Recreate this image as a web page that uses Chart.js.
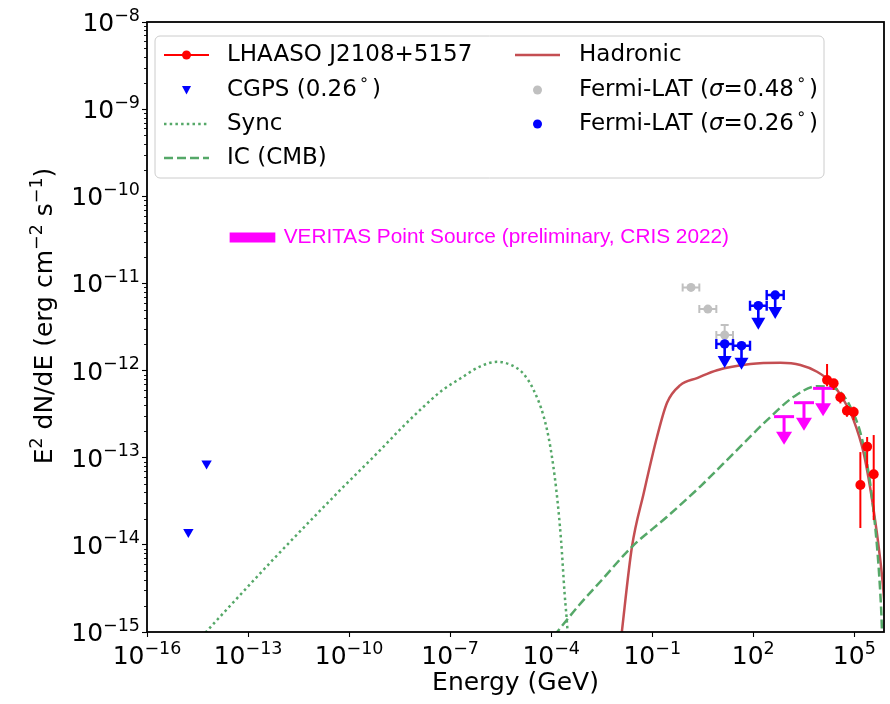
<!DOCTYPE html>
<html>
<head>
<meta charset="utf-8">
<script src="https://cdn.jsdelivr.net/npm/chart.js@4.4.1/dist/chart.umd.min.js"></script>
<style>
  html, body { margin: 0; padding: 0; background: #ffffff; }
  canvas { display: block; }
</style>
</head>
<body>
<canvas id="sed" width="890" height="704"></canvas>
<script>
// Spectral energy distribution of LHAASO J2108+5157.
// Energies in GeV, fluxes as E^2 dN/dE in erg cm^-2 s^-1.

// Model curves
const syncE = [3.2e-15, 5.6e-13, 5.5e-11, 8.5e-10, 3.3e-9, 1.3e-8, 5.7e-8, 2.0e-7, 7.9e-7, 2.5e-6, 6.4e-6, 1.46e-5, 3.0e-5, 6.0e-5, 9.4e-5, 1.42e-4, 1.96e-4, 2.5e-4, 3.0e-4, 3.4e-4];
const syncF = [7.9e-16, 6.8e-15, 4.27e-14, 1.23e-13, 2.12e-13, 3.55e-13, 5.9e-13, 8.1e-13, 1.12e-12, 1.26e-12, 1.16e-12, 9.3e-13, 6.0e-13, 2.96e-13, 1.34e-13, 4.26e-14, 1.14e-14, 2.78e-15, 1.15e-15, 5.0e-16];

const icE = [1.2e-4, 6.5e-4, 2.9e-3, 2.5e-2, 0.275, 2.7, 26, 257, 1585, 7760, 2.43e4, 7.6e4, 1.9e5, 3.7e5, 5.9e5, 6.6e5, 7.1e5];
const icF = [9.0e-16, 2.0e-15, 3.8e-15, 9.5e-15, 2.1e-14, 4.7e-14, 1.12e-13, 2.7e-13, 5.0e-13, 6.6e-13, 6.3e-13, 3.85e-13, 1.35e-13, 2.5e-14, 2.8e-15, 1.05e-15, 3.0e-16];

const hadE = [1.17e-2, 2.5e-2, 5.6e-2, 0.139, 0.275, 0.68, 2.14, 8.4, 82, 640, 2500, 7800, 1.95e4, 4.8e4, 9.5e4, 1.89e5, 3.75e5, 5.9e5, 7.4e5, 8.9e5];
const hadF = [8.0e-16, 9.5e-15, 3.94e-14, 1.74e-13, 4.27e-13, 6.8e-13, 8.2e-13, 1.01e-12, 1.19e-12, 1.23e-12, 1.16e-12, 9.7e-13, 7.45e-13, 4.6e-13, 2.7e-13, 1.13e-13, 2.5e-14, 6.7e-15, 2.8e-15, 1.0e-15];

// LHAASO J2108+5157 flux points with 1-sigma bounds
const lhaasoE  = [1.55e4, 2.43e4, 3.85e4, 6.03e4, 9.55e4, 1.51e5, 2.40e5, 3.76e5];
const lhaasoF  = [7.8e-13, 7.14e-13, 4.93e-13, 3.46e-13, 3.34e-13, 4.86e-14, 1.34e-13, 6.45e-14];
const lhaasoHi = [1.19e-12, 7.94e-13, 5.48e-13, 4.03e-13, 3.85e-13, 1.16e-13, 1.73e-13, 1.82e-13];
const lhaasoLo = [6.6e-13, 5.98e-13, 4.2e-13, 2.95e-13, 2.71e-13, 1.56e-14, 7.6e-14, 1.93e-14];

// CGPS radio fluxes (408 MHz, 1420 MHz)
const cgpsE = [1.69e-15, 5.87e-15];
const cgpsF = [1.40e-14, 8.6e-14];

// Fermi-LAT, sigma = 0.48 deg
const fermi48E   = [1.414, 4.47, 14.14];
const fermi48Elo = [0.8, 2.5, 8.0];
const fermi48Ehi = [2.5, 8.0, 25.0];
const fermi48F   = [9.0e-12, 5.08e-12, 2.56e-12];
const fermi48Fhi = [9.0e-12, 5.08e-12, 3.33e-12];
const fermi48Flo = [9.0e-12, 5.08e-12, 2.0e-12];

// Fermi-LAT, sigma = 0.26 deg (upper limits)
const fermi26E   = [14.14, 44.7, 141, 447];
const fermi26Elo = [8.0, 25.0, 80, 250];
const fermi26Ehi = [25.0, 80, 250, 800];
const fermi26F   = [2.02e-12, 1.93e-12, 5.55e-12, 7.36e-12];

// VERITAS point-source upper limits
const veritasE  = [820, 3200, 11800];
const veritasUL = [2.96e-13, 4.28e-13, 6.25e-13];

// VERITAS annotation band and caption anchor
const veritasBandE = [2.84e-14, 6.46e-13];
const veritasBandF = [3.36e-11, 3.36e-11];
const veritasTextE = 1.14e-12;
const veritasCaption = 'VERITAS Point Source (preliminary, CRIS 2022)';

// Axis ticks (powers of ten) and titles
const xTickExp = [-16, -13, -10, -7, -4, -1, 2, 5];
const yTickExp = [-15, -14, -13, -12, -11, -10, -9, -8];
const xRange = [1e-16, 7.6e5];
const yRange = [1e-15, 1e-8];
const xTitle = [{t: 'Energy (GeV)'}];
const yTitle = [{t: 'E'}, {t: '2', sup: true}, {t: ' dN/dE (erg cm'}, {t: '\u22122', sup: true},
                {t: ' s'}, {t: '\u22121', sup: true}, {t: ')'}];

const FONT = "'DejaVu Sans', 'Noto Sans', sans-serif";
const RED = '#ff0000', BLUE = '#0000ff', GRAY = '#c0c0c0', MAG = '#ff00ff';
const GREEN = '#55a868', HAD = '#c44e52';

const pts = (xs, ys) => xs.map((x, i) => ({x: x, y: ys[i]}));

// Text with superscript / italic runs
function runFont(r, size) {
  return (r.italic ? 'italic ' : '') + (r.sup ? size * 0.7 : size) + 'px ' + FONT;
}
function richWidth(ctx, runs, size) {
  let w = 0;
  for (const r of runs) {
    ctx.font = runFont(r, size);
    w += ctx.measureText(r.t).width + (r.padL || 0) + (r.padR || 0);
  }
  return w;
}
function drawRich(ctx, runs, x, y, size, color, baseline) {
  let cx = x;
  ctx.fillStyle = color;
  ctx.textBaseline = baseline || 'middle';
  ctx.textAlign = 'left';
  for (const r of runs) {
    ctx.font = runFont(r, size);
    const dy = r.sup ? -size * 0.42 : 0;
    cx += r.padL || 0;
    ctx.fillText(r.t, cx, y + dy);
    cx += ctx.measureText(r.t).width + (r.padR || 0);
  }
}
function powRuns(e) {
  return [{t: '10'}, {t: (e < 0 ? '\u2212' : '') + Math.abs(e), sup: true}];
}
const DEG = {t: '\u2218', sup: true, padL: 2, padR: 3};

function downArrow(ctx, x, yTop, stem, headH, headW, color, lw) {
  ctx.strokeStyle = color;
  ctx.fillStyle = color;
  ctx.lineWidth = lw;
  ctx.beginPath();
  ctx.moveTo(x, yTop);
  ctx.lineTo(x, yTop + stem + 1);
  ctx.stroke();
  ctx.beginPath();
  ctx.moveTo(x - headW / 2, yTop + stem);
  ctx.lineTo(x + headW / 2, yTop + stem);
  ctx.lineTo(x, yTop + stem + headH);
  ctx.closePath();
  ctx.fill();
}

// Error bars and limit arrows, drawn just beneath each dataset's markers
const errorBars = {
  id: 'errorBars',
  beforeDatasetDraw(chart, args) {
    const ds = chart.data.datasets[args.index];
    const xs = chart.scales.x, ys = chart.scales.y, ctx = chart.ctx;
    const X = v => xs.getPixelForValue(v), Y = v => ys.getPixelForValue(v);
    ctx.save();
    ctx.lineCap = 'butt';
    if (ds.label === 'LHAASO J2108+5157') {
      ctx.strokeStyle = RED; ctx.lineWidth = 2;
      lhaasoE.forEach((e, i) => {
        ctx.beginPath();
        ctx.moveTo(X(e), Y(lhaasoHi[i]));
        ctx.lineTo(X(e), Y(lhaasoLo[i]));
        ctx.stroke();
      });
    } else if (ds.label === 'Fermi-LAT 0.48') {
      ctx.strokeStyle = GRAY; ctx.lineWidth = 2;
      fermi48E.forEach((e, i) => {
        const y = Y(fermi48F[i]), x0 = X(fermi48Elo[i]), x1 = X(fermi48Ehi[i]), xc = X(e);
        ctx.beginPath();
        ctx.moveTo(x0, y); ctx.lineTo(x1, y);
        ctx.moveTo(x0, y - 4); ctx.lineTo(x0, y + 4);
        ctx.moveTo(x1, y - 4); ctx.lineTo(x1, y + 4);
        const yh = Y(fermi48Fhi[i]), yl = Y(fermi48Flo[i]);
        if (yl - yh > 1) {
          ctx.moveTo(xc, yh); ctx.lineTo(xc, yl);
          ctx.moveTo(xc - 4, yh); ctx.lineTo(xc + 4, yh);
          ctx.moveTo(xc - 4, yl); ctx.lineTo(xc + 4, yl);
        }
        ctx.stroke();
      });
    } else if (ds.label === 'Fermi-LAT 0.26') {
      fermi26E.forEach((e, i) => {
        const y = Y(fermi26F[i]), x0 = X(fermi26Elo[i]), x1 = X(fermi26Ehi[i]), xc = X(e);
        ctx.strokeStyle = BLUE; ctx.lineWidth = 2.4;
        ctx.beginPath();
        ctx.moveTo(x0, y); ctx.lineTo(x1, y);
        ctx.moveTo(x0, y - 5); ctx.lineTo(x0, y + 5);
        ctx.moveTo(x1, y - 5); ctx.lineTo(x1, y + 5);
        ctx.stroke();
        downArrow(ctx, xc, y, 12, 12, 14, BLUE, 2.6);
      });
    } else if (ds.label === 'VERITAS UL') {
      veritasE.forEach((e, i) => {
        const y = Y(veritasUL[i]), xc = X(e);
        ctx.strokeStyle = MAG; ctx.lineWidth = 3;
        ctx.beginPath();
        ctx.moveTo(xc - 10, y); ctx.lineTo(xc + 10, y);
        ctx.stroke();
        downArrow(ctx, xc, y, 15, 13, 16, MAG, 3);
      });
    }
    ctx.restore();
  }
};

// Axes frame, tick labels, titles, minor ticks and the VERITAS caption
const frame = {
  id: 'frame',
  afterDatasetsDraw(chart) {
    const {ctx, chartArea: a} = chart;
    const xs = chart.scales.x, ys = chart.scales.y;
    ctx.save();
    // caption next to the band
    ctx.fillStyle = MAG;
    ctx.font = '20.8px "Liberation Sans", Arial, sans-serif';
    ctx.textBaseline = 'middle';
    ctx.textAlign = 'left';
    ctx.fillText(veritasCaption, xs.getPixelForValue(veritasTextE), ys.getPixelForValue(veritasBandF[0]));
    // minor ticks
    ctx.strokeStyle = '#000'; ctx.lineWidth = 0.9;
    ctx.beginPath();
    for (let n = -15; n < -8; n++) {
      for (let m = 2; m <= 9; m++) {
        const y = Math.round(ys.getPixelForValue(m * Math.pow(10, n))) + 0.5;
        ctx.moveTo(a.left - 3, y); ctx.lineTo(a.left, y);
      }
    }
    ctx.stroke();
    // frame
    ctx.lineWidth = 1.8;
    ctx.strokeStyle = '#000';
    ctx.strokeRect(a.left, a.top, a.right - a.left, a.bottom - a.top);

    // tick labels
    const S = 25;
    xs.ticks.forEach(t => {
      const runs = powRuns(Math.round(Math.log10(t.value)));
      const w = richWidth(ctx, runs, S);
      drawRich(ctx, runs, xs.getPixelForValue(t.value) - w / 2, a.bottom + 32, S, '#000', 'alphabetic');
    });
    ys.ticks.forEach(t => {
      const runs = powRuns(Math.round(Math.log10(t.value)));
      const w = richWidth(ctx, runs, S);
      drawRich(ctx, runs, a.left - 7 - w, ys.getPixelForValue(t.value) + 9, S, '#000', 'alphabetic');
    });

    // axis titles
    const wx = richWidth(ctx, xTitle, S);
    drawRich(ctx, xTitle, (a.left + a.right) / 2 - wx / 2, 690, S, '#000', 'alphabetic');
    const wy = richWidth(ctx, yTitle, S);
    ctx.translate(52, 316);
    ctx.rotate(-Math.PI / 2);
    drawRich(ctx, yTitle, -wy / 2, 0, S, '#000', 'alphabetic');
    ctx.restore();
  }
};

// Two-column legend box
const legendBox = {
  id: 'legendBox',
  afterDraw(chart) {
    const ctx = chart.ctx;
    ctx.save();
    const bx = 155, by = 36, bw = 669, bh = 142, r = 5;
    ctx.beginPath();
    ctx.moveTo(bx + r, by);
    ctx.arcTo(bx + bw, by, bx + bw, by + bh, r);
    ctx.arcTo(bx + bw, by + bh, bx, by + bh, r);
    ctx.arcTo(bx, by + bh, bx, by, r);
    ctx.arcTo(bx, by, bx + bw, by, r);
    ctx.closePath();
    ctx.fillStyle = 'rgba(255,255,255,0.8)';
    ctx.fill();
    ctx.strokeStyle = '#cccccc';
    ctx.lineWidth = 1;
    ctx.stroke();

    const rows = [55, 90, 124, 158];
    const fs = 23;
    const c1h = [164, 209], c1t = 227;
    const c2h = [515, 560], c2t = 579;
    const line = (x0, x1, y, color, lw, dash) => {
      ctx.beginPath();
      ctx.setLineDash(dash || []);
      ctx.strokeStyle = color; ctx.lineWidth = lw;
      ctx.moveTo(x0, y); ctx.lineTo(x1, y); ctx.stroke();
      ctx.setLineDash([]);
    };
    const dot = (x, y, rad, color) => {
      ctx.beginPath(); ctx.arc(x, y, rad, 0, Math.PI * 2);
      ctx.fillStyle = color; ctx.fill();
    };
    // column 1
    line(c1h[0], c1h[1], rows[0], RED, 2);
    dot((c1h[0] + c1h[1]) / 2, rows[0], 4.5, RED);
    drawRich(ctx, [{t: 'LHAASO J2108+5157'}], c1t, rows[0], fs, '#000');

    const tx = (c1h[0] + c1h[1]) / 2, ty = rows[1];
    ctx.beginPath();
    ctx.moveTo(tx - 4.5, ty - 4); ctx.lineTo(tx + 4.5, ty - 4); ctx.lineTo(tx, ty + 4.5); ctx.closePath();
    ctx.fillStyle = BLUE; ctx.fill();
    drawRich(ctx, [{t: 'CGPS (0.26'}, DEG, {t: ')'}], c1t, rows[1], fs, '#000');

    line(c1h[0], c1h[1], rows[2], GREEN, 2.5, [2.5, 3.2]);
    drawRich(ctx, [{t: 'Sync'}], c1t, rows[2], fs, '#000');

    line(c1h[0], c1h[1], rows[3], GREEN, 2.5, [9, 4]);
    drawRich(ctx, [{t: 'IC (CMB)'}], c1t, rows[3], fs, '#000');

    // column 2
    line(c2h[0], c2h[1], rows[0], HAD, 2.5);
    drawRich(ctx, [{t: 'Hadronic'}], c2t, rows[0], fs, '#000');
    dot((c2h[0] + c2h[1]) / 2, rows[1], 4.5, GRAY);
    drawRich(ctx, [{t: 'Fermi-LAT ('}, {t: '\u03c3', italic: true}, {t: '=0.48'}, DEG, {t: ')'}], c2t, rows[1], fs, '#000');
    dot((c2h[0] + c2h[1]) / 2, rows[2], 4.5, BLUE);
    drawRich(ctx, [{t: 'Fermi-LAT ('}, {t: '\u03c3', italic: true}, {t: '=0.26'}, DEG, {t: ')'}], c2t, rows[2], fs, '#000');
    ctx.restore();
  }
};

Chart.defaults.font.family = FONT;
Chart.defaults.color = '#000';

const curve = (label, xs, ys, color, width, dash) => ({
  label: label, data: pts(xs, ys), showLine: true, borderColor: color, borderWidth: width,
  borderDash: dash || [], pointRadius: 0, pointHoverRadius: 0, cubicInterpolationMode: 'monotone',
  capBezierPoints: false, clip: 0, order: 5, borderCapStyle: 'butt'
});

new Chart(document.getElementById('sed'), {
  type: 'scatter',
  data: {
    datasets: [
      curve('Sync', syncE, syncF, GREEN, 2.5, [2.5, 3.2]),
      curve('IC (CMB)', icE, icF, GREEN, 2.5, [9, 4]),
      curve('Hadronic', hadE, hadF, HAD, 2.5),
      Object.assign(curve('VERITAS band', veritasBandE, veritasBandF, MAG, 10), {cubicInterpolationMode: 'default'}),
      {label: 'VERITAS UL', data: pts(veritasE, veritasUL), pointRadius: 0, pointHoverRadius: 0, order: 3},
      {label: 'Fermi-LAT 0.48', data: pts(fermi48E, fermi48F), pointRadius: 4.5, pointHoverRadius: 4.5,
       backgroundColor: GRAY, borderWidth: 0, order: 2},
      {label: 'Fermi-LAT 0.26', data: pts(fermi26E, fermi26F), pointRadius: 4.8, pointHoverRadius: 4.8,
       backgroundColor: BLUE, borderWidth: 0, order: 1},
      {label: 'CGPS (0.26)', data: pts(cgpsE, cgpsF), pointStyle: 'triangle', rotation: 180,
       pointRadius: 6, pointHoverRadius: 6, backgroundColor: BLUE, borderWidth: 0, order: 1},
      {label: 'LHAASO J2108+5157', data: pts(lhaasoE, lhaasoF), pointRadius: 5, pointHoverRadius: 5,
       backgroundColor: RED, borderWidth: 0, order: 0}
    ]
  },
  options: {
    responsive: false,
    animation: false,
    devicePixelRatio: 1,
    events: [],
    layout: {padding: {left: 0, right: 6, top: 22, bottom: 0}},
    plugins: {legend: {display: false}, tooltip: {enabled: false}},
    scales: {
      x: {
        type: 'logarithmic', min: xRange[0], max: xRange[1],
        afterBuildTicks: s => { s.ticks = xTickExp.map(e => ({value: Math.pow(10, e)})); },
        afterFit: s => { s.height = 72; },
        ticks: {callback: () => '', autoSkip: false, maxRotation: 0},
        grid: {drawOnChartArea: false, drawTicks: true, tickLength: 5, tickColor: '#000', tickWidth: 1.1},
        border: {display: false}
      },
      y: {
        type: 'logarithmic', min: yRange[0], max: yRange[1],
        afterBuildTicks: s => { s.ticks = yTickExp.map(e => ({value: Math.pow(10, e)})); },
        afterFit: s => { s.width = 147; },
        ticks: {callback: () => '', autoSkip: false},
        grid: {drawOnChartArea: false, drawTicks: true, tickLength: 5, tickColor: '#000', tickWidth: 1.1},
        border: {display: false}
      }
    }
  },
  plugins: [errorBars, frame, legendBox]
});
</script>
</body>
</html>
